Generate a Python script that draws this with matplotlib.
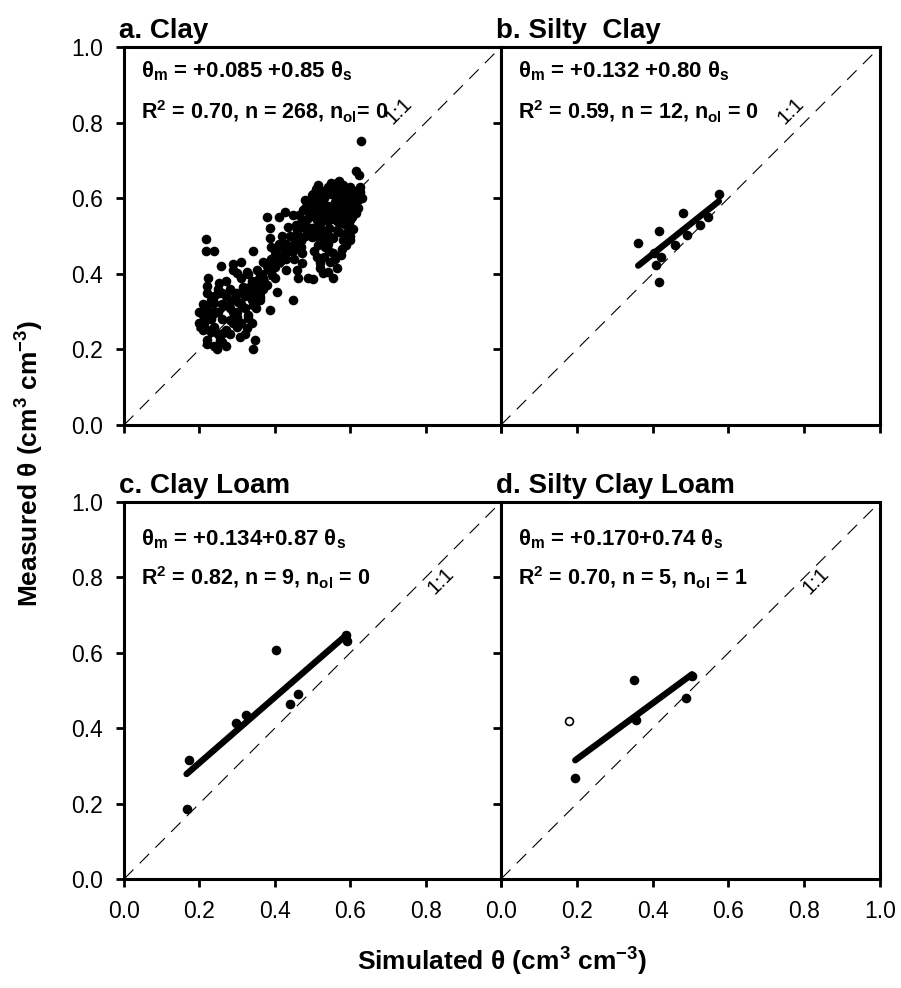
import matplotlib
matplotlib.use("Agg")
import matplotlib.pyplot as plt
import numpy as np

plt.rcParams["font.family"] = ["Liberation Sans", "DejaVu Sans"]
plt.rcParams["mathtext.fontset"] = "custom"
plt.rcParams["mathtext.rm"] = "Liberation Sans:bold"
plt.rcParams["mathtext.it"] = "Liberation Sans:bold"
plt.rcParams["mathtext.bf"] = "Liberation Sans:bold"

# --- data (simulated, measured) ---
clay_points = [
    (0.629, 0.751), (0.615, 0.673), (0.624, 0.661), (0.217, 0.492), (0.217, 0.459),
    (0.240, 0.460), (0.341, 0.461), (0.380, 0.549), (0.387, 0.520), (0.386, 0.494),
    (0.257, 0.421), (0.290, 0.426), (0.224, 0.390), (0.221, 0.369), (0.253, 0.375),
    (0.253, 0.350), (0.447, 0.332), (0.386, 0.304), (0.405, 0.353), (0.347, 0.225),
    (0.343, 0.202), (0.246, 0.201), (0.221, 0.213), (0.325, 0.256), (0.308, 0.234),
    (0.210, 0.267), (0.215, 0.256), (0.225, 0.300), (0.238, 0.322), (0.254, 0.225),
    (0.263, 0.243), (0.281, 0.278), (0.299, 0.287), (0.330, 0.283), (0.303, 0.326),
    (0.294, 0.349), (0.316, 0.366), (0.325, 0.406), (0.299, 0.401), (0.352, 0.410),
    (0.356, 0.384), (0.361, 0.339), (0.343, 0.317), (0.336, 0.349), (0.370, 0.366),
    (0.392, 0.397), (0.400, 0.419), (0.400, 0.450), (0.423, 0.472), (0.431, 0.438),
    (0.449, 0.459), (0.458, 0.489), (0.471, 0.454), (0.471, 0.428), (0.458, 0.410),
    (0.462, 0.390), (0.500, 0.385), (0.489, 0.388), (0.427, 0.564), (0.412, 0.551),
    (0.449, 0.556), (0.436, 0.525), (0.458, 0.516), (0.471, 0.542), (0.480, 0.595),
    (0.480, 0.573), (0.499, 0.608), (0.515, 0.635), (0.564, 0.639), (0.599, 0.516),
    (0.608, 0.518), (0.599, 0.489), (0.577, 0.466), (0.555, 0.454), (0.546, 0.432),
    (0.529, 0.401), (0.520, 0.428), (0.511, 0.445), (0.499, 0.498), (0.529, 0.502),
    (0.626, 0.617), (0.626, 0.600), (0.608, 0.580), (0.591, 0.619), (0.575, 0.601),
    (0.538, 0.617), (0.520, 0.587), (0.555, 0.569), (0.584, 0.560), (0.599, 0.542),
    (0.538, 0.542), (0.502, 0.560), (0.564, 0.516), (0.533, 0.471), (0.511, 0.542),
    (0.484, 0.525),
    # dense upper cluster
    (0.50, 0.52), (0.51, 0.55), (0.52, 0.57), (0.53, 0.60), (0.54, 0.58),
    (0.55, 0.61), (0.56, 0.59), (0.57, 0.62), (0.58, 0.60), (0.59, 0.58),
    (0.60, 0.60), (0.61, 0.62), (0.62, 0.61), (0.60, 0.63), (0.58, 0.635),
    (0.56, 0.625), (0.54, 0.63), (0.52, 0.61), (0.51, 0.59), (0.50, 0.57),
    (0.49, 0.55), (0.48, 0.53), (0.50, 0.50), (0.52, 0.52), (0.53, 0.55),
    (0.55, 0.545), (0.56, 0.555), (0.57, 0.575), (0.58, 0.58), (0.59, 0.595),
    (0.60, 0.57), (0.61, 0.585), (0.62, 0.595), (0.615, 0.56), (0.605, 0.55),
    (0.59, 0.53), (0.575, 0.535), (0.565, 0.54), (0.545, 0.52), (0.535, 0.505),
    (0.525, 0.49), (0.515, 0.475), (0.505, 0.46), (0.54, 0.48), (0.555, 0.495),
    (0.57, 0.51), (0.585, 0.505), (0.60, 0.50), (0.59, 0.475), (0.575, 0.45),
    (0.56, 0.44), (0.545, 0.46), (0.53, 0.445), (0.52, 0.415), (0.565, 0.415),
    (0.555, 0.39), (0.54, 0.405), (0.58, 0.49), (0.62, 0.575), (0.63, 0.60),
    (0.625, 0.63), (0.605, 0.615), (0.595, 0.625), (0.57, 0.645), (0.55, 0.64),
    (0.53, 0.62), (0.515, 0.605), (0.505, 0.58), (0.495, 0.565), (0.485, 0.545),
    (0.47, 0.525), (0.46, 0.505), (0.455, 0.53), (0.465, 0.555), (0.475, 0.57),
    (0.49, 0.59), (0.50, 0.61), (0.51, 0.625), (0.52, 0.535), (0.535, 0.565),
    (0.55, 0.575), (0.565, 0.60), (0.58, 0.615), (0.595, 0.61), (0.61, 0.60),
    (0.57, 0.56), (0.585, 0.545), (0.60, 0.525), (0.545, 0.50), (0.525, 0.51),
    (0.51, 0.50), (0.495, 0.52), (0.485, 0.51), (0.47, 0.49), (0.465, 0.47),
    # middle band
    (0.35, 0.37), (0.36, 0.40), (0.37, 0.39), (0.38, 0.42), (0.39, 0.44),
    (0.40, 0.46), (0.41, 0.43), (0.42, 0.45), (0.43, 0.48), (0.44, 0.50),
    (0.45, 0.48), (0.44, 0.46), (0.42, 0.50), (0.41, 0.48), (0.39, 0.47),
    (0.37, 0.43), (0.36, 0.35), (0.38, 0.37), (0.40, 0.39), (0.43, 0.41),
    (0.45, 0.44), (0.47, 0.47), (0.48, 0.50), (0.46, 0.49),
    # lower cluster
    (0.20, 0.27), (0.21, 0.29), (0.22, 0.31), (0.23, 0.28), (0.24, 0.26),
    (0.25, 0.30), (0.26, 0.32), (0.27, 0.34), (0.28, 0.31), (0.29, 0.33),
    (0.30, 0.35), (0.31, 0.32), (0.32, 0.34), (0.33, 0.36), (0.34, 0.38),
    (0.30, 0.30), (0.29, 0.27), (0.27, 0.25), (0.26, 0.28), (0.24, 0.30),
    (0.23, 0.33), (0.22, 0.35), (0.25, 0.36), (0.27, 0.38), (0.28, 0.36),
    (0.31, 0.39), (0.33, 0.40), (0.32, 0.31), (0.34, 0.33), (0.35, 0.31),
    (0.33, 0.29), (0.31, 0.27), (0.28, 0.24), (0.26, 0.22), (0.25, 0.24),
    (0.23, 0.245), (0.22, 0.225), (0.21, 0.25), (0.20, 0.30), (0.21, 0.32),
    (0.24, 0.34), (0.26, 0.35), (0.29, 0.30), (0.30, 0.26), (0.32, 0.24),
    (0.27, 0.21), (0.24, 0.21), (0.35, 0.35), (0.36, 0.33), (0.34, 0.27),
    (0.37, 0.36), (0.29, 0.41), (0.31, 0.43),
]

silty_clay_sim = [0.362, 0.416, 0.481, 0.403, 0.422, 0.409, 0.416, 0.460, 0.491, 0.575, 0.545, 0.525]
silty_clay_meas = [0.482, 0.513, 0.561, 0.456, 0.445, 0.422, 0.377, 0.476, 0.503, 0.612, 0.550, 0.530]

clay_loam_sim = [0.166, 0.173, 0.297, 0.323, 0.403, 0.440, 0.462, 0.590, 0.592]
clay_loam_meas = [0.187, 0.315, 0.414, 0.434, 0.607, 0.464, 0.490, 0.646, 0.631]

silty_clay_loam_sim = [0.196, 0.352, 0.356, 0.489, 0.504]
silty_clay_loam_meas = [0.267, 0.527, 0.423, 0.479, 0.538]
scl_outlier_sim = [0.180]
scl_outlier_meas = [0.419]

titles = ["a. Clay", "b. Silty  Clay", "c. Clay Loam", "d. Silty Clay Loam"]
intercepts = [0.085, 0.132, 0.134, 0.170]
slopes = [0.85, 0.80, 0.87, 0.74]
equations = [
    r"$\theta_m$ = +0.085 +0.85 $\theta_s$",
    r"$\theta_m$ = +0.132 +0.80 $\theta_s$",
    r"$\theta_m$ = +0.134+0.87 $\theta_s$",
    r"$\theta_m$ = +0.170+0.74 $\theta_s$",
]
stats = [
    r"R$^2$ = 0.70, n = 268, n$_{ol}$= 0",
    r"R$^2$ = 0.59, n = 12, n$_{ol}$ = 0",
    r"R$^2$ = 0.82, n = 9, n$_{ol}$ = 0",
    r"R$^2$ = 0.70, n = 5, n$_{ol}$ = 1",
]
ticks = [0.0, 0.2, 0.4, 0.6, 0.8, 1.0]
tick_labels = ["0.0", "0.2", "0.4", "0.6", "0.8", "1.0"]


def main():
    clay = np.array(clay_points)
    series = [
        (clay[:, 0], clay[:, 1]),
        (np.array(silty_clay_sim), np.array(silty_clay_meas)),
        (np.array(clay_loam_sim), np.array(clay_loam_meas)),
        (np.array(silty_clay_loam_sim), np.array(silty_clay_loam_meas)),
    ]

    fig = plt.figure(figsize=(9.01, 9.88), dpi=100)
    W, H = 901, 988
    boxes = [
        (124, 47, 377, 378),
        (501, 47, 379, 378),
        (124, 502, 377, 377),
        (501, 502, 379, 377),
    ]
    eq_y = [0.92, 0.92, 0.885, 0.885]
    st_y = [0.808, 0.808, 0.78, 0.78]
    oneone = [(0.73, 0.83), (0.765, 0.83), (0.84, 0.79), (0.83, 0.79)]

    for i, (x0, y0, w, h) in enumerate(boxes):
        ax = fig.add_axes([x0 / W, 1 - (y0 + h) / H, w / W, h / H])
        sim, meas = series[i]

        ax.plot([0, 1], [0, 1], color="black", lw=0.8, ls=(0, (12, 8)),
                clip_on=False, zorder=1)
        xs = np.array([sim.min(), sim.max()])
        ax.plot(xs, intercepts[i] + slopes[i] * xs, color="black", lw=4.6,
                solid_capstyle="round", zorder=2)
        ax.scatter(sim, meas, s=48, c="black", linewidths=0, zorder=3)
        if i == 3:
            ax.scatter(scl_outlier_sim, scl_outlier_meas, s=32, facecolors="white",
                       edgecolors="black", linewidths=1.2, zorder=3)

        ax.set_xlim(0, 1)
        ax.set_ylim(0, 1)
        ax.set_xticks(ticks)
        ax.set_yticks(ticks)
        xl = list(tick_labels)
        if i == 2:
            xl[-1] = ""
        ax.set_xticklabels(xl if i >= 2 else [""] * 6)
        ax.set_yticklabels(tick_labels if i in (0, 2) else [""] * 6)
        ax.tick_params(direction="out", length=6, width=2, labelsize=16.5, pad=9,
                       top=False, right=False)
        for sp in ax.spines.values():
            sp.set_linewidth(2.2)

        ax.text(-0.012, 1.024, titles[i], transform=ax.transAxes, fontsize=20,
                fontweight="bold", ha="left", va="baseline")
        ax.text(0.045, eq_y[i], equations[i], transform=ax.transAxes, fontsize=16,
                fontweight="bold", ha="left", va="baseline")
        ax.text(0.045, st_y[i], stats[i], transform=ax.transAxes, fontsize=15.5,
                fontweight="bold", ha="left", va="baseline")
        ax.text(oneone[i][0], oneone[i][1], "1:1", transform=ax.transAxes,
                fontsize=15, rotation=45, ha="center", va="center")

    fig.text(30 / W, 1 - 463 / H, r"Measured $\theta$ (cm$^3$ cm$^{-3}$)",
             rotation=90, fontsize=19, fontweight="bold", ha="center", va="center")
    fig.text(502 / W, 1 - 962 / H, r"Simulated $\theta$ (cm$^3$ cm$^{-3}$)",
             fontsize=19, fontweight="bold", ha="center", va="center")

    fig.savefig("out.png", dpi=100)


if __name__ == "__main__":
    main()
